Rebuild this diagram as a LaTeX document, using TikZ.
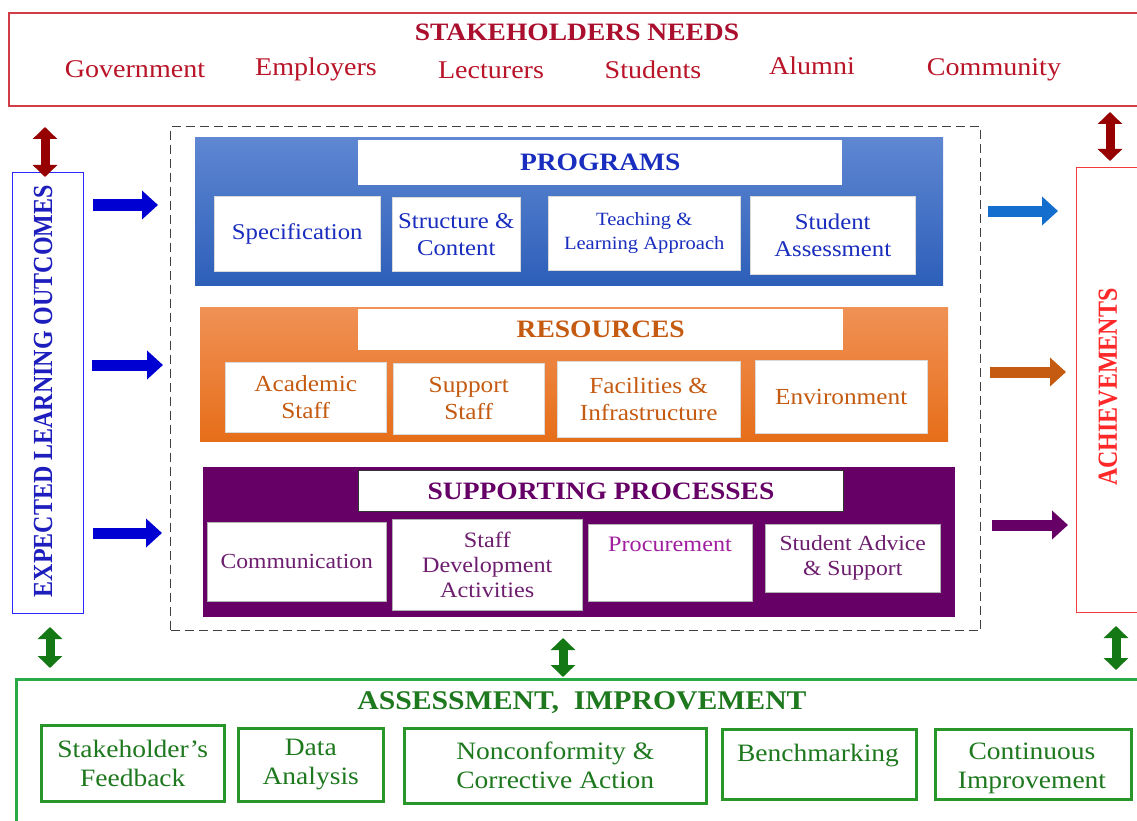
\documentclass[tikz,border=0pt]{standalone}
\usepackage{graphicx}
\usepackage{fontspec}
\setmainfont{Liberation Serif}[FakeStretch=1.1]
\newfontfamily\rotfont{Liberation Serif}
\usetikzlibrary{arrows.meta}
\newcommand{\fsz}[2]{\fontsize{#1}{#2}\selectfont}
\definecolor{stitle}{RGB}{170,15,45}
\definecolor{sitem}{RGB}{185,20,40}
\definecolor{sborder}{RGB}{210,60,70}
\definecolor{dred}{RGB}{150,0,0}
\definecolor{elotext}{RGB}{30,30,190}
\definecolor{eloborder}{RGB}{40,40,255}
\definecolor{barrowc}{RGB}{0,0,210}
\definecolor{progtop}{RGB}{95,135,210}
\definecolor{progbot}{RGB}{45,95,185}
\definecolor{progtext}{RGB}{25,45,190}
\definecolor{restop}{RGB}{240,145,85}
\definecolor{resbot}{RGB}{230,110,25}
\definecolor{restext}{RGB}{197,90,17}
\definecolor{purp}{RGB}{102,0,102}
\definecolor{purtext}{RGB}{110,30,110}
\definecolor{procc}{RGB}{160,30,160}
\definecolor{rblue}{RGB}{20,110,205}
\definecolor{achred}{RGB}{255,40,40}
\definecolor{achborder}{RGB}{240,60,60}
\definecolor{garrowc}{RGB}{20,120,20}
\definecolor{gborder}{RGB}{40,170,70}
\definecolor{gtext}{RGB}{30,120,30}
\definecolor{gsub}{RGB}{40,150,40}
\begin{document}
\begin{tikzpicture}[x=1pt,y=-1pt,
  wbox/.style={fill=white, inner sep=2pt, align=center, anchor=north west},
  progsub/.style={wbox, draw=white!85!black, line width=0.5pt, text=progtext, font=\fsz{22.5}{27}},
  ressub/.style={wbox, draw=white!85!black, line width=0.5pt, text=restext, font=\fsz{23}{27}},
  pursub/.style={wbox, draw=white!70!black, line width=0.5pt, text=purtext, font=\fsz{21.5}{25}},
  gsubbox/.style={wbox, draw=gsub, line width=2.5pt, text=gtext, font=\fsz{25}{29}},
  titlebox/.style={wbox, font=\bfseries\fsz{25}{28}},
  harrow/.style={line width=11pt, -{Triangle[width=28pt,length=16pt]}},
  vdarrow/.style={line width=9pt, {Triangle[width=24pt,length=12pt]}-{Triangle[width=24pt,length=12pt]}},
  item/.style={text=sitem, font=\fsz{25.5}{28}, anchor=base, inner sep=0pt}
]
\useasboundingbox (0,0) rectangle (1137,821);
\fill[white] (0,0) rectangle (1137,821);

% Stakeholders
\node[draw=sborder, line width=2pt, anchor=north west, minimum width=1140pt, minimum height=93pt, inner sep=0pt] (stake) at (8,12) {};
\node[text=stitle, font=\bfseries\fsz{25}{28}, anchor=base, inner sep=0pt] (stitle) at (577,41) {STAKEHOLDERS NEEDS};
\node[item] (gov) at (135,78) {Government};
\node[item] (emp) at (316,76) {Employers};
\node[item] (lec) at (491,79) {Lecturers};
\node[item] (stu) at (653,79) {Students};
\node[item] (alu) at (812,75) {Alumni};
\node[item] (com) at (994,76) {Community};

% Expected learning outcomes
\node[draw=eloborder, line width=1pt, anchor=north west, minimum width=71pt, minimum height=441pt, inner sep=0pt] (elo) at (12,172) {};
\node[rotate=90, text=elotext, font=\rotfont\bfseries\fsz{24}{26}] (elot) at (43,391) {\scalebox{1}[1.15]{EXPECTED LEARNING OUTCOMES}};

% Achievements
\node[draw=achborder, line width=1pt, anchor=north west, minimum width=80pt, minimum height=445pt, inner sep=0pt] (ach) at (1076,167) {};
\node[rotate=90, text=achred, font=\rotfont\bfseries\fsz{24}{26}] (acht) at (1108,387) {\scalebox{1}[1.15]{ACHIEVEMENTS}};

% Dashed frame
\node[draw=black!75, line width=1.3pt, dash pattern=on 9pt off 5pt, anchor=north west, minimum width=810pt, minimum height=504pt, inner sep=0pt] (frame) at (170,126) {};

% Programs
\node[top color=progtop, bottom color=progbot, anchor=north west, minimum width=748pt, minimum height=148pt, inner sep=0pt] (prog) at (195,137) {};
\node[titlebox, text=progtext, minimum width=484pt, minimum height=45pt] (progt) at (358,140) {PROGRAMS};
\node[progsub, minimum width=166pt, minimum height=75pt] (spec) at (214,196) {Specification};
\node[progsub, minimum width=128pt, minimum height=74pt] (struc) at (392,197) {Structure \&\\Content};
\node[progsub, minimum width=192pt, minimum height=74pt, font=\fsz{18.7}{24}] (teach) at (548,196) {Teaching \&\\Learning Approach};
\node[progsub, minimum width=165pt, minimum height=78pt] (sass) at (750,196) {Student\\Assessment};

% Resources
\node[top color=restop, bottom color=resbot, anchor=north west, minimum width=748pt, minimum height=134pt, inner sep=0pt] (res) at (200,307) {};
\node[titlebox, text=restext, minimum width=485pt, minimum height=41pt] (rest) at (358,309) {RESOURCES};
\node[ressub, minimum width=161pt, minimum height=70pt] (acad) at (225,362) {Academic\\Staff};
\node[ressub, minimum width=151pt, minimum height=71pt] (supst) at (393,363) {Support\\Staff};
\node[ressub, minimum width=183pt, minimum height=76pt] (facil) at (557,361) {Facilities \&\\Infrastructure};
\node[ressub, minimum width=172pt, minimum height=73pt] (env) at (755,360) {Environment};

% Supporting processes
\node[fill=purp, anchor=north west, minimum width=752pt, minimum height=150pt, inner sep=0pt] (supp) at (203,467) {};
\node[titlebox, draw=black!80, line width=1pt, text=purp, minimum width=485pt, minimum height=41pt] (suppt) at (358,470) {SUPPORTING PROCESSES};
\node[pursub, minimum width=179pt, minimum height=79pt] (comm) at (207,522) {Communication};
\node[pursub, minimum width=190pt, minimum height=91pt, font=\fsz{22}{25}] (sdev) at (392,519) {Staff\\Development\\Activities};
\node[pursub, minimum width=164pt, minimum height=77pt] (proc) at (588,524) {};
\node[text=procc, font=\fsz{22}{25}, anchor=base, inner sep=0pt] (proct) at (670,551) {Procurement};
\node[pursub, minimum width=175pt, minimum height=68pt] (sadv) at (765,524) {Student Advice\\\& Support};

% Assessment, improvement
\node[draw=gborder, line width=2.5pt, anchor=north west, minimum width=1140pt, minimum height=160pt, inner sep=0pt] (assess) at (15,678) {};
\node[text=gtext, font=\bfseries\fsz{27}{28}, anchor=base, inner sep=0pt] (asst) at (582,709) {ASSESSMENT,\ \ IMPROVEMENT};
\node[gsubbox, minimum width=183pt, minimum height=76pt] (sfb) at (40,724) {Stakeholder's\\Feedback};
\node[gsubbox, minimum width=145pt, minimum height=73pt] (dan) at (237,727) {Data\\Analysis};
\node[gsubbox, minimum width=302pt, minimum height=75pt] (ncf) at (403,727) {Nonconformity \&\\Corrective Action};
\node[gsubbox, minimum width=194pt, minimum height=70pt] (bmk) at (721,728) {};
\node[text=gtext, font=\fsz{25}{29}, anchor=base, inner sep=0pt] (bmkt) at (818,761) {Benchmarking};
\node[gsubbox, minimum width=196pt, minimum height=70pt] (cim) at (934,728) {};
\node[text=gtext, font=\fsz{25}{29}, align=center, inner sep=0pt] (cimt) at (1032,768) {Continuous\\Improvement};

% Arrow end coordinates
\coordinate (dl1) at (45,127);  \coordinate (dl2) at (45,177);
\coordinate (dr1) at (1110,112); \coordinate (dr2) at (1110,161);
\coordinate (bl1s) at (93,205);  \coordinate (bl1e) at (158,205);
\coordinate (bl2s) at (92,365);  \coordinate (bl2e) at (163,365);
\coordinate (bl3s) at (93,533);  \coordinate (bl3e) at (162,533);
\coordinate (ra1s) at (988,211); \coordinate (ra1e) at (1058,211);
\coordinate (ra2s) at (990,372); \coordinate (ra2e) at (1066,372);
\coordinate (ra3s) at (992,525); \coordinate (ra3e) at (1068,525);
\coordinate (gl1) at (50,627);   \coordinate (gl2) at (50,668);
\coordinate (gm1) at (563,638);  \coordinate (gm2) at (563,677);
\coordinate (gr1) at (1116,626); \coordinate (gr2) at (1116,670);

\draw[vdarrow, dred] (dl1) -- (dl2);
\draw[vdarrow, dred] (dr1) -- (dr2);
\draw[harrow, barrowc] (bl1s) -- (bl1e);
\draw[harrow, barrowc] (bl2s) -- (bl2e);
\draw[harrow, barrowc] (bl3s) -- (bl3e);
\draw[harrow, rblue] (ra1s) -- (ra1e);
\draw[harrow, restext] (ra2s) -- (ra2e);
\draw[harrow, purp] (ra3s) -- (ra3e);
\draw[vdarrow, garrowc] (gl1) -- (gl2);
\draw[vdarrow, garrowc] (gm1) -- (gm2);
\draw[vdarrow, garrowc] (gr1) -- (gr2);
\end{tikzpicture}
\end{document}
